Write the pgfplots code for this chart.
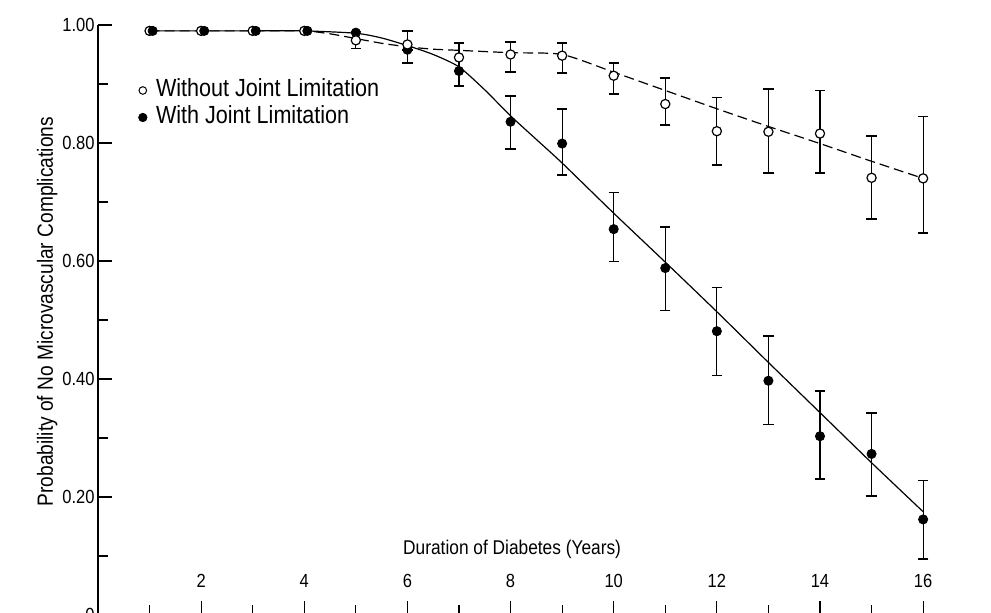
\documentclass[border=0pt]{standalone}
\usepackage{fontspec}
\setmainfont[FakeStretch=0.87]{Liberation Sans}
\usepackage{pgfplots}
\pgfplotsset{compat=1.18}
\usepackage{pgfplotstable}

% open circles: without joint limitation
\pgfplotstableread{
x  y     ep    em
5  0.974 0.015 0.014
6  0.967 0.023 0.009
7  0.945 0.025 0.023
8  0.950 0.021 0.030
9  0.948 0.022 0.029
10 0.914 0.022 0.031
11 0.866 0.044 0.036
12 0.820 0.057 0.057
13 0.819 0.072 0.070
14 0.816 0.073 0.067
15 0.741 0.071 0.070
16 0.740 0.105 0.093
}\without

% filled circles: with joint limitation
\pgfplotstableread{
x  y     ep    em
6  0.958 0     0.023
7  0.922 0     0.025
8  0.836 0.044 0.046
9  0.799 0.058 0.053
10 0.654 0.062 0.055
11 0.588 0.069 0.072
12 0.481 0.074 0.075
13 0.397 0.076 0.074
14 0.303 0.077 0.073
15 0.273 0.070 0.072
16 0.162 0.066 0.067
}\withjl

\begin{document}
\begin{tikzpicture}
\begin{axis}[
    scale only axis,
    width=446.5pt, height=295pt,
    xmin=0, xmax=17.316, ymin=0, ymax=1,
    axis lines=left,
    axis line style={-, line width=0.6pt},
    tick align=inside,
    tick style={black, line width=0.6pt},
    major tick length=7pt, minor tick length=5pt,
    xtick={2,4,6,8,10,12,14,16},
    xticklabels={2,4,6,8,10,12,14,16},
    minor xtick={1,3,5,7,9,11,13,15},
    ytick={0,0.2,0.4,0.6,0.8,1},
    yticklabels={0,0.20,0.40,0.60,0.80,1.00},
    minor ytick={0.1,0.3,0.5,0.7,0.9},
    xticklabel style={anchor=base, inner sep=0pt, yshift=13.5pt, font=\fontsize{9.5}{11}\selectfont},
    yticklabel style={anchor=east, inner sep=1.5pt, font=\fontsize{9.5}{11}\selectfont},
    clip=false,
    legend style={at={(axis cs:0.78,0.910)}, anchor=north west, draw=none, fill=none,
        inner sep=0pt, row sep=1.5pt, font=\fontsize{12.4}{14}\selectfont,
        nodes={inner sep=1pt, text height=8pt, text depth=2pt},
        /tikz/every odd column/.append style={column sep=3.5pt}},
    legend cell align=left,
    legend image code/.code={\draw[#1] plot coordinates {(2pt,0pt)};},
]
\addlegendimage{only marks, mark=*, mark size=1.9pt, mark options={fill=white, draw=black, line width=0.5pt}}
\addlegendentry{Without Joint Limitation}
\addlegendimage{only marks, mark=*, mark size=2.1pt, mark options={fill=black, draw=black}}
\addlegendentry{With Joint Limitation}

% fitted curves
\addplot[black, line width=0.6pt, dash pattern=on 5pt off 2.5pt, smooth, tension=0.4] coordinates {
 (1,0.990) (2,0.990) (3,0.990) (4,0.990) (4.5,0.985) (5,0.977) (5.5,0.969)
 (6,0.963) (6.5,0.959) (7,0.957) (8,0.953) (9,0.950) (10,0.920) (11,0.889)
 (12,0.858) (13,0.828) (14,0.799) (15,0.769) (16,0.740)};
\addplot[black, line width=0.6pt, smooth, tension=0.4] coordinates {
 (1,0.990) (2,0.990) (3,0.990) (4,0.990) (5,0.986) (5.5,0.978) (6,0.965)
 (6.5,0.950) (7,0.929) (7.5,0.890) (8,0.846) (8.5,0.806) (9,0.766) (10,0.681)
 (11,0.598) (12,0.514) (13,0.428) (14,0.343) (15,0.258) (16,0.175)};

% points at 1-4 (no error bars)
\addplot[only marks, mark=*, mark size=2.3pt, mark options={fill=white, draw=black, line width=0.6pt}]
 coordinates {(1,0.990) (2,0.990) (3,0.990) (4,0.990)};
\addplot[only marks, mark=*, mark size=2.3pt, mark options={fill=black, draw=black}]
 coordinates {(1.06,0.990) (2.06,0.990) (3.06,0.990) (4.06,0.990) (5,0.987)};

% points with error bars
\addplot[only marks, mark=*, mark size=2.3pt, mark options={fill=black, draw=black},
    error bars/.cd, y dir=both, y explicit,
    error bar style={line width=0.6pt, black},
    error mark options={rotate=90, mark size=2.6pt, line width=0.9pt, black}]
 table[x=x, y=y, y error plus=ep, y error minus=em] {\withjl};
\addplot[only marks, mark=*, mark size=2.3pt, mark options={fill=white, draw=black, line width=0.6pt},
    error bars/.cd, y dir=both, y explicit,
    error bar style={line width=0.6pt, black},
    error mark options={rotate=90, mark size=2.6pt, line width=0.9pt, black}]
 table[x=x, y=y, y error plus=ep, y error minus=em] {\without};

% axis titles
\node[anchor=base, font=\fontsize{9.95}{11}\selectfont] at (axis cs:8.03,0.1017) {Duration of Diabetes (Years)};
\node[rotate=90, anchor=base, font=\fontsize{11}{13}\selectfont] at ([xshift=-22.5pt]axis cs:0,0.514) {Probability of No Microvascular Complications};
\end{axis}
\pgfresetboundingbox
\path (-49pt,1pt) rectangle (446.5pt,307.5pt);
\end{tikzpicture}
\end{document}
